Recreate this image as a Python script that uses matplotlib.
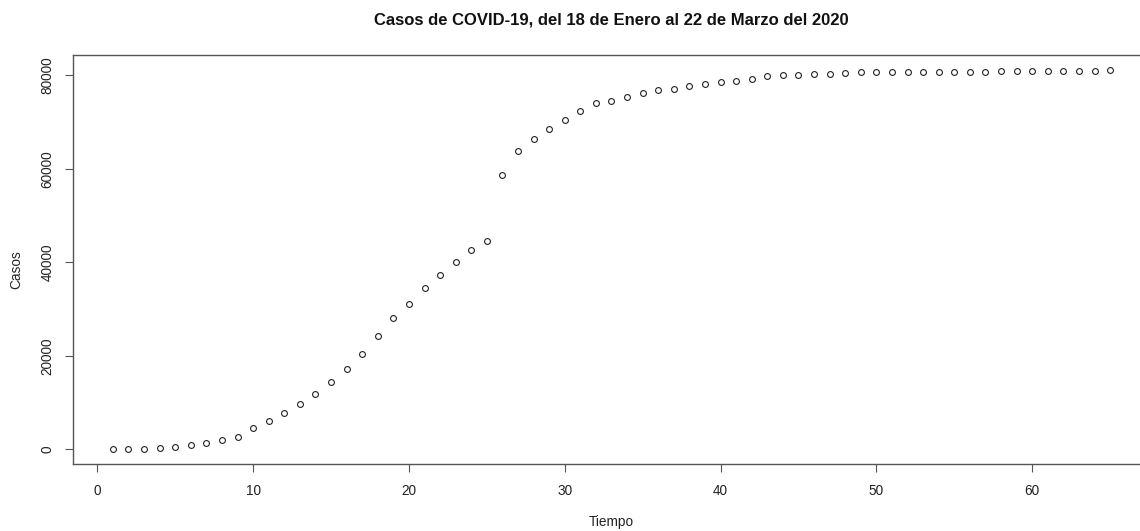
import matplotlib.pyplot as plt
import numpy as np

plt.rcParams['font.family'] = ['Liberation Sans', 'DejaVu Sans']

# casos acumulados, dia 1 = 18 de enero
dias = np.arange(1, 66)
casos = [45, 62, 121, 291, 571, 830, 1287, 1975, 2744, 4515,
         5974, 7711, 9692, 11791, 14380, 17205, 20438, 24324, 28018, 31161,
         34546, 37198, 40171, 42638, 44653, 58761, 63851, 66492, 68500, 70548,
         72436, 74185, 74576, 75465, 76288, 76936, 77150, 77658, 78064, 78497,
         78824, 79251, 79824, 80026, 80151, 80270, 80409, 80552, 80651, 80695,
         80735, 80754, 80778, 80793, 80813, 80824, 80844, 80860, 80881, 80894,
         80928, 80967, 81008, 81054, 81193]

xticks = [0, 10, 20, 30, 40, 50, 60]
yticks = [0, 20000, 40000, 60000, 80000]

W, H = 1140, 531
fig = plt.figure(figsize=(W / 100, H / 100), dpi=100)
ax = fig.add_axes([73 / W, 1 - 464.3 / H, (1150 - 73) / W, (464.3 - 54.7) / H])

ax.plot(dias, casos, 'o', mfc='none', mec='#222222', ms=4.2, mew=0.8)

# rango estilo R: 4% de margen a cada lado
xr = dias.max() - dias.min()
yr = max(casos) - min(casos)
ax.set_xlim(dias.min() - 0.04 * xr, dias.max() + 0.04 * xr)
ax.set_ylim(min(casos) - 0.04 * yr, max(casos) + 0.04 * yr)

for s in ax.spines.values():
    s.set_color('#555555')
    s.set_linewidth(1.0)

ax.set_xticks(xticks)
ax.set_xticklabels([str(v) for v in xticks])
ax.set_yticks(yticks)
ax.set_yticklabels([str(v) for v in yticks], rotation=90, va='center')
ax.tick_params(axis='both', direction='out', length=5.5, width=0.8,
               color='#555555', labelsize=9.8, labelcolor='#222222')
ax.tick_params(axis='x', pad=9)
ax.tick_params(axis='y', pad=8)

fig.text(611 / W, 1 - 20 / H, 'Casos de COVID-19, del 18 de Enero al 22 de Marzo del 2020',
         ha='center', va='center', fontsize=12, fontweight='bold', color='#111111')
fig.text(611 / W, 1 - 522 / H, 'Tiempo', ha='center', va='center',
         fontsize=9.8, color='#222222')
fig.text(16 / W, 1 - 270 / H, 'Casos', ha='center', va='center', rotation=90,
         fontsize=9.8, color='#222222')

fig.savefig('out.png', dpi=100)
